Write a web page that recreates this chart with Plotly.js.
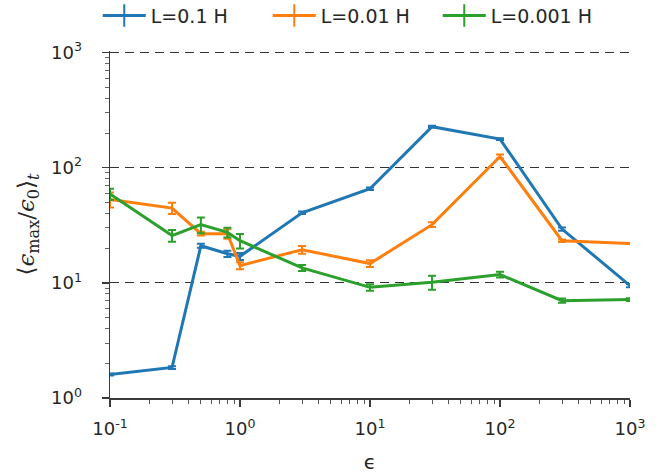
<!DOCTYPE html>
<html>
<head>
<meta charset="utf-8">
<script src="https://cdn.plot.ly/plotly-3.0.1.min.js"></script>
<style>
  html, body { margin: 0; padding: 0; background: #fff; }
  #chart { width: 665px; height: 474px; }
</style>
</head>
<body>
<div id="chart"></div>
<script>
// Strain ratio versus epsilon for three inductances
const epsValues = [0.1, 0.3, 0.5, 0.8, 1, 3, 10, 30, 100, 300, 1000];

const seriesNames = ['L=0.1 H', 'L=0.01 H', 'L=0.001 H'];
const seriesColors = ['#1f77b4', '#ff7f0e', '#2ca02c'];

const ratioL1 = [1.6, 1.84, 21, 17.9, 17.0, 40.6, 65.6, 227, 177, 29.3, 9.46];
const errL1   = [0.03, 0.05, 0.8, 1.1, 1.2, 1.0, 1.5, 4, 3, 1.0, 0.3];

const ratioL2 = [53, 44.6, 26.7, 26.7, 14.1, 19.4, 14.7, 32, 125, 23.2, 21.9];
const errL2   = [8, 5, 1.0, 2.5, 1.0, 1.5, 1.0, 1.5, 5, 0.6, 0.2];

const ratioL3 = [59, 25.7, 32, 27.4, 23.2, 13.5, 9.14, 10.1, 11.8, 7.0, 7.15];
const errL3   = [6.5, 3, 5, 2.7, 3.3, 0.8, 0.6, 1.4, 0.7, 0.3, 0.2];

const majorTicks = [0.1, 1, 10, 100, 1000];
const xTickText = ['10<sup>-1</sup>', '10<sup>0</sup>', '10<sup>1</sup>', '10<sup>2</sup>', '10<sup>3</sup>'];
const yMajorTicks = [1, 10, 100, 1000];
const yTickText = ['10<sup>0</sup>', '10<sup>1</sup>', '10<sup>2</sup>', '10<sup>3</sup>'];

// minor ticks at 2..9 within each decade
function minorTicks(lo, hi) {
  const out = [];
  for (let d = lo; d < hi; d++) {
    for (let m = 2; m <= 9; m++) out.push(m * Math.pow(10, d));
  }
  return out;
}

const ratios = [ratioL1, ratioL2, ratioL3];
const errs = [errL1, errL2, errL3];

const traces = [];
ratios.forEach((ys, i) => {
  traces.push({
    x: epsValues,
    y: ys,
    type: 'scatter',
    mode: 'lines',
    name: seriesNames[i],
    showlegend: false,
    line: { color: seriesColors[i], width: 3 },
    error_y: { type: 'data', array: errs[i], visible: true, color: seriesColors[i], thickness: 2, width: 4 }
  });
});
// legend entries: line with a vertical bar glyph, as an errorbar key
seriesNames.forEach((nm, i) => {
  traces.push({
    x: [null], y: [null],
    type: 'scatter',
    mode: 'lines+markers',
    name: nm,
    line: { color: seriesColors[i], width: 3 },
    marker: { symbol: 'line-ns-open', size: 16, color: seriesColors[i], line: { width: 2, color: seriesColors[i] } }
  });
});

const axisColor = '#3a3a3a';
const textColor = '#262626';

const layout = {
  width: 665,
  height: 474,
  margin: { l: 110, r: 35, t: 51, b: 76, autoexpand: false },
  paper_bgcolor: '#fff',
  plot_bgcolor: '#fff',
  font: { family: 'DejaVu Sans, sans-serif', size: 18, color: textColor },
  showlegend: true,
  legend: {
    orientation: 'h',
    x: 0.147, xref: 'container', xanchor: 'left',
    y: 0.967, yref: 'container', yanchor: 'middle',
    font: { size: 19, color: textColor },
    bgcolor: 'rgba(0,0,0,0)',
    itemwidth: 43,
    entrywidth: 112
  },
  xaxis: {
    type: 'log',
    range: [-1, 3],
    tickmode: 'array',
    tickvals: majorTicks,
    ticktext: xTickText,
    ticks: 'outside',
    ticklen: 7,
    tickwidth: 1.5,
    tickcolor: axisColor,
    ticklabelstandoff: 7,
    showline: true,
    linecolor: axisColor,
    linewidth: 1.5,
    showgrid: false,
    zeroline: false,
    tickfont: { size: 18, color: textColor },
    minor: { tickmode: 'array', tickvals: minorTicks(-1, 3), ticks: 'outside', ticklen: 4, tickwidth: 1, tickcolor: '#555', showgrid: false },
    title: { text: 'ϵ', font: { family: 'DejaVu Sans, sans-serif', size: 20, color: textColor }, standoff: 22 }
  },
  yaxis: {
    type: 'log',
    range: [0, 3.013],
    tickmode: 'array',
    tickvals: yMajorTicks,
    ticktext: yTickText,
    ticks: 'outside',
    ticklen: 7,
    tickwidth: 1.5,
    tickcolor: axisColor,
    ticklabelstandoff: 16,
    showline: true,
    linecolor: axisColor,
    linewidth: 1.5,
    showgrid: true,
    gridcolor: '#333',
    gridwidth: 1.2,
    griddash: '9px,6px',
    zeroline: false,
    tickfont: { size: 18, color: textColor },
    minor: { tickmode: 'array', tickvals: minorTicks(0, 3), ticks: 'outside', ticklen: 4, tickwidth: 1, tickcolor: '#666', showgrid: false },
    title: {
      text: '⟨<i>ϵ</i><sub>max</sub>/<i>ϵ</i><sub>0</sub>⟩<sub><i>t</i></sub>',
      font: { family: 'DejaVu Serif, serif', size: 23, color: textColor },
      standoff: 10
    }
  }
};

Plotly.newPlot('chart', traces, layout, { displayModeBar: false, staticPlot: true });
</script>
</body>
</html>
